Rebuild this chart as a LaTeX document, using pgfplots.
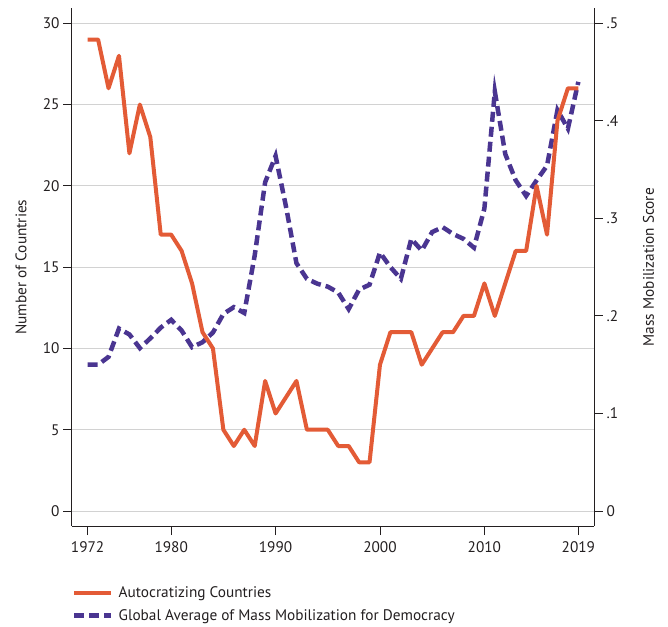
\documentclass[border=0pt]{standalone}
\usepackage{fontspec}
\setmainfont{PT Sans}
\usepackage{pgfplots}
\pgfplotsset{compat=1.18}
\definecolor{autoc}{HTML}{E35B36}
\definecolor{mobil}{HTML}{4A3591}
\definecolor{ink}{HTML}{231F20}
\definecolor{gridgray}{HTML}{D2D2D2}
\newcommand\chartfont{\fontsize{15.3}{17}\selectfont}
\pgfplotsset{
  every axis/.append style={
    scale only axis,
    width=522pt,
    height=517.7pt,
    xmin=1970.5,
    xmax=2020.5,
    axis line style={ink, line width=1pt, -},
    tick style={ink, line width=0.9pt},
    tick align=outside,
    major tick length=9pt,
    tick label style={font=\chartfont, text=ink},
    label style={font=\chartfont, text=ink},
  },
  autoc line/.style={autoc, line width=4pt, line join=round},
  mobil line/.style={mobil, line width=4.5pt, dash pattern=on 10pt off 5pt},
}
\begin{document}
\begin{tikzpicture}
% left frame and grid
\begin{axis}[
  axis x line*=bottom,
  axis y line*=left,
  ymin=-0.92, ymax=30.92,
  xtick={1972,1980,1990,2000,2010,2019},
  xticklabels={1972,1980,1990,2000,2010,2019},
  xticklabel shift=3pt,
  ytick={0,5,10,15,20,25,30},
  yticklabels={0,5,10,15,20,25,30},
  ymajorgrids,
  grid style={gridgray, line width=0.9pt},
  ylabel={Number of Countries},
  ylabel style={at={(axis description cs:-0.0977,0.5)}, anchor=center},
]
\end{axis}
% right axis: mobilization
\begin{axis}[
  axis x line=none,
  axis y line*=right,
  ymin=-0.0154, ymax=0.5154,
  ytick={0,0.1,0.2,0.3,0.4,0.5},
  yticklabels={0,.1,.2,.3,.4,.5},
  ylabel={Mass Mobilization Score},
  ylabel style={at={(axis description cs:1.1044,0.5)}, anchor=center},
]
\addplot[mobil line] coordinates {
  (1972,0.150) (1973,0.150) (1974,0.158) (1975,0.187) (1976,0.181)
  (1977,0.167) (1978,0.177) (1979,0.188) (1980,0.196) (1981,0.185)
  (1982,0.168) (1983,0.173) (1984,0.183) (1985,0.202) (1986,0.209)
  (1987,0.203) (1988,0.262) (1989,0.337) (1990,0.364) (1991,0.312)
  (1992,0.254) (1993,0.238) (1994,0.233) (1995,0.230) (1996,0.224)
  (1997,0.207) (1998,0.227) (1999,0.232) (2000,0.265) (2001,0.250)
  (2002,0.238) (2003,0.279) (2004,0.267) (2005,0.286) (2006,0.291)
  (2007,0.284) (2008,0.279) (2009,0.270) (2010,0.310) (2011,0.430)
  (2012,0.366) (2013,0.339) (2014,0.323) (2015,0.339) (2016,0.354)
  (2017,0.411) (2018,0.392) (2019,0.440)
};
\end{axis}
% orange series on top, with the legend
\begin{axis}[
  hide axis,
  ymin=-0.92, ymax=30.92,
  legend image code/.code={\draw[#1] (0pt,0pt) -- (37pt,0pt);},
  legend cell align=left,
  legend style={
    at={(axis description cs:0,-0.1137)},
    anchor=north west,
    draw=none, fill=none,
    font=\chartfont, text=ink,
    inner sep=0pt,
    row sep=6pt,
    /tikz/every odd column/.append style={column sep=3pt},
  },
]
\addplot[autoc line] coordinates {
  (1972,29) (1973,29) (1974,26) (1975,28) (1976,22) (1977,25)
  (1978,23) (1979,17) (1980,17) (1981,16) (1982,14) (1983,11)
  (1984,10) (1985,5) (1986,4) (1987,5) (1988,4) (1989,8)
  (1990,6) (1991,7) (1992,8) (1993,5) (1994,5) (1995,5)
  (1996,4) (1997,4) (1998,3) (1999,3) (2000,9) (2001,11)
  (2002,11) (2003,11) (2004,9) (2005,10) (2006,11) (2007,11)
  (2008,12) (2009,12) (2010,14) (2011,12) (2012,14) (2013,16)
  (2014,16) (2015,20) (2016,17) (2017,24) (2018,26) (2019,26)
};
\addlegendentry{Autocratizing Countries}
\addlegendimage{mobil line}
\addlegendentry{Global Average of Mass Mobilization for Democracy}
\end{axis}
\pgfresetboundingbox
\path (-72pt,-100pt) rectangle (596pt,526pt);
\end{tikzpicture}
\end{document}
